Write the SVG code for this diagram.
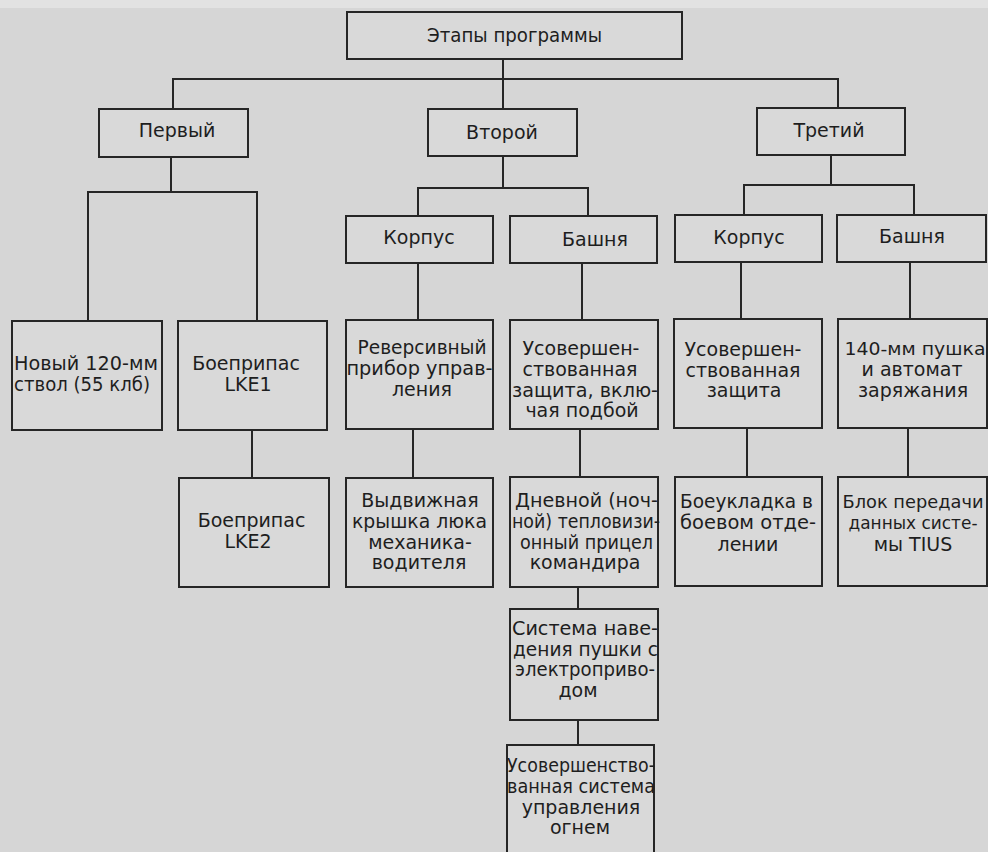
<svg xmlns="http://www.w3.org/2000/svg" width="988" height="852" viewBox="0 0 988 852">
<style>
.bg{fill:#d6d6d6}
.box{fill:#d9d9d9;stroke:#262626;stroke-width:2}
.ln{fill:none;stroke:#262626;stroke-width:2}
text{font-family:"DejaVu Sans","Noto Sans",sans-serif;font-size:19px;fill:#1e1e1e}
.c{text-anchor:middle}
.s{font-size:18px}
</style>
<rect class="bg" x="0" y="0" width="988" height="852"/>
<rect x="0" y="0" width="988" height="8" fill="#e2e2e2"/>
<g id="connectors">
<path class="ln" d="M503,59 V109 M173,109 V79 H838 V108"/>
<path class="ln" d="M171,157 V192 M88,321 V192 H257 V321"/>
<path class="ln" d="M503,156 V188 M418,216 V188 H588 V216"/>
<path class="ln" d="M831,155 V185 M744,215 V185 H914 V215"/>
<path class="ln" d="M418,263 V320 M582,263 V320 M741,262 V319 M910,262 V319"/>
<path class="ln" d="M252,430 V478 M413,429 V478 M580,429 V477 M747,428 V477 M908,428 V477"/>
<path class="ln" d="M578,587 V609 M578,720 V745"/>
</g>
<g id="n-top"><rect class="box" x="347" y="12" width="335" height="47"/><text class="c" x="514.5" y="42" textLength="175" lengthAdjust="spacingAndGlyphs">Этапы программы</text></g>
<g id="n-first"><rect class="box" x="99" y="109" width="149" height="48"/><text class="c" x="177" y="137">Первый</text></g>
<g id="n-second"><rect class="box" x="428" y="109" width="149" height="47"/><text class="c" x="502" y="139">Второй</text></g>
<g id="n-third"><rect class="box" x="757" y="108" width="148" height="47"/><text class="c" x="829" y="137">Третий</text></g>
<g id="n-hull2"><rect class="box" x="346" y="216" width="147" height="47"/><text class="c" x="419" y="244">Корпус</text></g>
<g id="n-turret2"><rect class="box" x="510" y="216" width="147" height="47"/><text class="c" x="595" y="246">Башня</text></g>
<g id="n-hull3"><rect class="box" x="675" y="215" width="147" height="47"/><text class="c" x="749" y="244">Корпус</text></g>
<g id="n-turret3"><rect class="box" x="837" y="215" width="149" height="47"/><text class="c" x="912" y="243">Башня</text></g>
<g id="n-barrel"><rect class="box" x="12" y="321" width="150" height="109"/>
<text x="14" y="370" textLength="144" lengthAdjust="spacingAndGlyphs">Новый 120-мм</text>
<text x="14" y="391" textLength="136" lengthAdjust="spacingAndGlyphs">ствол (55 клб)</text></g>
<g id="n-lke1"><rect class="box" x="178" y="321" width="149" height="109"/>
<text class="c" x="246" y="370">Боеприпас</text>
<text class="c" x="248" y="391">LKE1</text></g>
<g id="n-reverse"><rect class="box" x="346" y="320" width="147" height="109"/>
<text class="c" x="422" y="354" textLength="129" lengthAdjust="spacingAndGlyphs">Реверсивный</text>
<text class="c" x="419.5" y="375" textLength="146" lengthAdjust="spacingAndGlyphs">прибор управ-</text>
<text class="c" x="422" y="396">ления</text></g>
<g id="n-protect2"><rect class="box" x="510" y="320" width="148" height="109"/>
<text class="c" x="581" y="355">Усовершен-</text>
<text class="c" x="580" y="376">ствованная</text>
<text class="c" x="585" y="397" textLength="146" lengthAdjust="spacingAndGlyphs">защита, вклю-</text>
<text class="c" x="582" y="417">чая подбой</text></g>
<g id="n-protect3"><rect class="box" x="674" y="319" width="148" height="109"/>
<text class="c" x="743" y="356">Усовершен-</text>
<text class="c" x="743" y="377">ствованная</text>
<text class="c" x="744" y="397">защита</text></g>
<g id="n-gun140"><rect class="box" x="838" y="319" width="149" height="109"/>
<text class="c s" x="915" y="355" textLength="141" lengthAdjust="spacingAndGlyphs">140-мм пушка</text>
<text class="c" x="912" y="376">и автомат</text>
<text class="c" x="913" y="397">заряжания</text></g>
<g id="n-lke2"><rect class="box" x="179" y="478" width="150" height="109"/>
<text class="c" x="251.5" y="527">Боеприпас</text>
<text class="c" x="248" y="548">LKE2</text></g>
<g id="n-hatch"><rect class="box" x="346" y="478" width="147" height="109"/>
<text class="c" x="420" y="507">Выдвижная</text>
<text class="c" x="419.5" y="528" textLength="135" lengthAdjust="spacingAndGlyphs">крышка люка</text>
<text class="c" x="420" y="549">механика-</text>
<text class="c" x="419" y="569">водителя</text></g>
<g id="n-sight"><rect class="box" x="510" y="477" width="148" height="110"/>
<text class="c" x="586.5" y="507" textLength="143" lengthAdjust="spacingAndGlyphs">Дневной (ноч-</text>
<text class="c" x="586" y="528" textLength="148" lengthAdjust="spacingAndGlyphs">ной) тепловизи-</text>
<text class="c" x="586.5" y="549" textLength="133" lengthAdjust="spacingAndGlyphs">онный прицел</text>
<text class="c" x="585" y="569">командира</text></g>
<g id="n-stowage"><rect class="box" x="675" y="477" width="147" height="109"/>
<text class="c" x="746.5" y="508" textLength="133" lengthAdjust="spacingAndGlyphs">Боеукладка в</text>
<text class="c" x="748" y="529" textLength="136" lengthAdjust="spacingAndGlyphs">боевом отде-</text>
<text class="c" x="748" y="551">лении</text></g>
<g id="n-tius"><rect class="box" x="838" y="477" width="149" height="109"/>
<text class="c s" x="913" y="508" textLength="141" lengthAdjust="spacingAndGlyphs">Блок передачи</text>
<text class="c s" x="913" y="529" textLength="129" lengthAdjust="spacingAndGlyphs">данных систе-</text>
<text class="c" x="913" y="551">мы TIUS</text></g>
<g id="n-drive"><rect class="box" x="510" y="609" width="148" height="111"/>
<text class="c" x="585" y="635" textLength="146" lengthAdjust="spacingAndGlyphs">Система наве-</text>
<text class="c" x="585.5" y="656" textLength="145" lengthAdjust="spacingAndGlyphs">дения пушки с</text>
<text class="c" x="585" y="676" textLength="140" lengthAdjust="spacingAndGlyphs">электроприво-</text>
<text class="c" x="578" y="697">дом</text></g>
<g id="n-fcs"><rect class="box" x="507" y="745" width="147" height="130"/>
<text class="c" x="581" y="772" textLength="148" lengthAdjust="spacingAndGlyphs">Усовершенство-</text>
<text class="c" x="581" y="793" textLength="148" lengthAdjust="spacingAndGlyphs">ванная система</text>
<text class="c" x="581" y="814">управления</text>
<text class="c" x="580" y="834">огнем</text></g>
</svg>
